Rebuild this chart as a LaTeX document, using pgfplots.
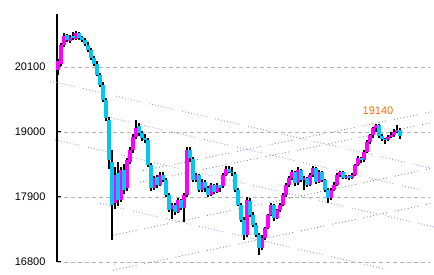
\documentclass[border=0pt]{standalone}
\usepackage{pgfplots}
\pgfplotsset{compat=1.18}
\usepackage{pgfplotstable}
\usepackage{fontspec}
\setmainfont{Liberation Sans}
\definecolor{candleup}{HTML}{FF00FF}
\definecolor{candledn}{HTML}{00C8F0}
\definecolor{trendblue}{HTML}{9A9AF0}
\definecolor{trendgray}{HTML}{8C8C8C}
\definecolor{gridgray}{HTML}{B4B4B4}
\definecolor{lblorange}{HTML}{FF6A00}

\pgfplotstableread{
x o h l c
58 20050 20240 19970 20200
61 20150 20500 20120 20470
64 20470 20680 20440 20625
67 20640 20660 20520 20557
70 20540 20640 20510 20610
73 20620 20700 20560 20591
76 20580 20710 20560 20670
79 20680 20700 20560 20590
82 20600 20630 20520 20557
85 20560 20590 20460 20489
88 20480 20520 20360 20388
91 20380 20420 20220 20252
94 20250 20290 20110 20151
97 20150 20200 19940 19965
100 19960 20000 19760 19795
103 19800 19850 19500 19542
106 19540 19580 19180 19237
109 19200 19250 18380 18526
112 18500 18700 17172 17765
115 17800 18400 17700 18272
118 18300 18500 17750 17849
121 17850 18400 17820 18357
124 18350 18450 17950 18018
127 18050 18560 18000 18526
130 18500 18750 18450 18695
133 18700 18960 18650 18915
136 18920 19200 18880 19068
139 19100 19150 18940 18983
142 18990 19020 18850 18898
145 18890 18960 18820 18865
148 18860 18900 18400 18442
151 18440 18480 18000 18052
154 18060 18260 18020 18222
157 18230 18280 18060 18103
160 18100 18320 18080 18272
163 18280 18330 18150 18188
166 18190 18220 17900 17934
169 17930 17960 17640 17680
172 17690 17800 17520 17765
175 17760 17790 17600 17646
178 17650 17880 17630 17849
181 17850 17870 17680 17714
184 17720 17960 17470 17934
187 17930 18746 17900 18695
190 18700 18740 18500 18560
193 18550 18580 18150 18188
196 18190 18300 18160 18272
199 18270 18290 17980 18018
202 18020 18200 17990 18154
205 18150 18190 17990 18052
208 18060 18090 17900 17934
211 17940 18130 17920 18103
214 18100 18120 17950 17985
217 17990 18140 17960 18103
220 18100 18110 17990 18052
223 18080 18300 18050 18280
226 18270 18420 18250 18380
229 18380 18420 18300 18330
232 18330 18400 18260 18300
235 18290 18320 17990 18018
238 18020 18050 17740 17765
241 17770 17800 17480 17511
244 17510 17560 17180 17257
247 17260 17900 17230 17849
250 17840 17880 17560 17595
253 17600 17640 17390 17426
256 17430 17460 17230 17257
259 17260 17290 16918 17037
262 17040 17250 17000 17206
265 17210 17400 17180 17375
268 17370 17620 17350 17595
271 17600 17800 17570 17765
274 17760 17780 17500 17545
277 17540 17700 17520 17680
280 17680 17790 17650 17765
283 17760 17960 17740 17934
286 17930 18130 17900 18103
289 18100 18260 18070 18222
292 18220 18360 18190 18323
295 18320 18340 18090 18137
298 18140 18400 18100 18357
301 18360 18380 18150 18188
304 18190 18260 18020 18222
307 18220 18240 18070 18103
310 18100 18300 18080 18272
313 18270 18420 18240 18391
316 18390 18410 18120 18154
319 18150 18360 18130 18323
322 18320 18340 18150 18188
325 18190 18210 17990 18018
328 18020 18050 17800 17883
331 17880 18050 17850 18018
334 18020 18150 18000 18103
337 18100 18300 18080 18272
340 18270 18340 18230 18323
343 18320 18340 18200 18222
346 18220 18270 18200 18255
349 18250 18270 18180 18222
352 18220 18300 18200 18272
355 18280 18460 18260 18442
358 18440 18600 18420 18560
361 18560 18580 18480 18526
364 18520 18700 18500 18662
367 18660 18860 18640 18831
370 18830 18970 18800 18949
373 18950 19080 18900 19068
376 19060 19140 19000 19118
379 19110 19130 18900 18932
382 18930 18970 18850 18880
385 18880 18900 18800 18865
388 18860 18950 18840 18915
391 18920 19000 18900 18949
394 18950 19050 18920 19000
397 19000 19110 18980 19034
400 19030 19060 18880 18932
}\candles

\tikzset{
  bluedots/.style={dash pattern=on 0.9pt off 2.1pt on 0.9pt off 2.1pt on 0.9pt off 2.1pt on 0.9pt off 2.1pt on 0.9pt off 2.1pt on 0.9pt off 2.1pt on 0.9pt off 2.1pt on 0.9pt off 2.1pt on 0.9pt off 9pt},
  graydots/.style={dash pattern=on 0.9pt off 2.4pt on 0.9pt off 2.4pt on 0.9pt off 2.4pt on 0.9pt off 2.4pt on 0.9pt off 2.4pt on 0.9pt off 2.4pt on 0.9pt off 2.4pt on 0.9pt off 8pt},
}

\begin{document}
\begin{tikzpicture}
\path[use as bounding box] (-57pt,-13pt) rectangle (377pt,262pt);
\begin{axis}[
  scale only axis,
  width=373pt, height=248pt,
  xmin=57, xmax=430,
  ymin=16800, ymax=20997,
  clip=false,
  axis x line=none,
  axis y line=left,
  axis line style={-, black, line width=1.2pt},
  scaled y ticks=false,
  ytick={16800,17900,19000,20100},
  yticklabels={16800,17900,19000,20100},
  yticklabel style={font=\fontsize{11}{13}\selectfont, xshift=-8pt},
  tick align=inside,
  major tick length=4pt,
  tick style={black, line width=1pt},
  ymajorgrids,
  grid style={gridgray, dash pattern=on 4pt off 3pt, line width=0.9pt},
]
% descending trend lines (blue)
\addplot[trendblue, bluedots, line width=0.9pt, forget plot] coordinates {(50,19863) (430,18391)};
\addplot[trendblue, bluedots, line width=0.9pt, forget plot] coordinates {(55,18868) (434,17392)};
\addplot[trendblue, bluedots, line width=0.9pt, forget plot] coordinates {(105,19264) (420,18022)};
\addplot[trendblue, bluedots, line width=0.9pt, forget plot] coordinates {(100,17790) (385,16682)};
% ascending trend lines (gray)
\addplot[trendgray, graydots, line width=0.9pt, forget plot] coordinates {(143,18347) (432,19343)};
\addplot[trendgray, graydots, line width=0.9pt, forget plot] coordinates {(140,18150) (432,19157)};
\addplot[trendgray, graydots, line width=0.9pt, forget plot] coordinates {(113,17252) (432,18386)};
\addplot[trendgray, graydots, line width=0.9pt, forget plot] coordinates {(113,16660) (432,17793)};
% wicks
\addplot[black, forget plot,
  quiver={u=0, v=\thisrow{h}-\thisrow{l}, every arrow/.append style={-, black, line width=1.1pt}}]
  table[x=x, y=l] {\candles};
% up bodies
\addplot[candleup, forget plot,
  restrict expr to domain={\thisrow{c}-\thisrow{o}}{0:100000},
  quiver={u=0, v=\thisrow{c}-\thisrow{o}, every arrow/.append style={-, candleup, line width=3.2pt}}]
  table[x=x, y=o] {\candles};
% down bodies
\addplot[candledn, forget plot,
  restrict expr to domain={\thisrow{o}-\thisrow{c}}{0:100000},
  quiver={u=0, v=\thisrow{o}-\thisrow{c}, every arrow/.append style={-, candledn, line width=3.2pt}}]
  table[x=x, y=c] {\candles};
\node[text=lblorange, anchor=base, inner sep=0pt, font=\fontsize{11}{13}\selectfont] at (axis cs:378,19290) {19140};
\end{axis}
\end{tikzpicture}
\end{document}
